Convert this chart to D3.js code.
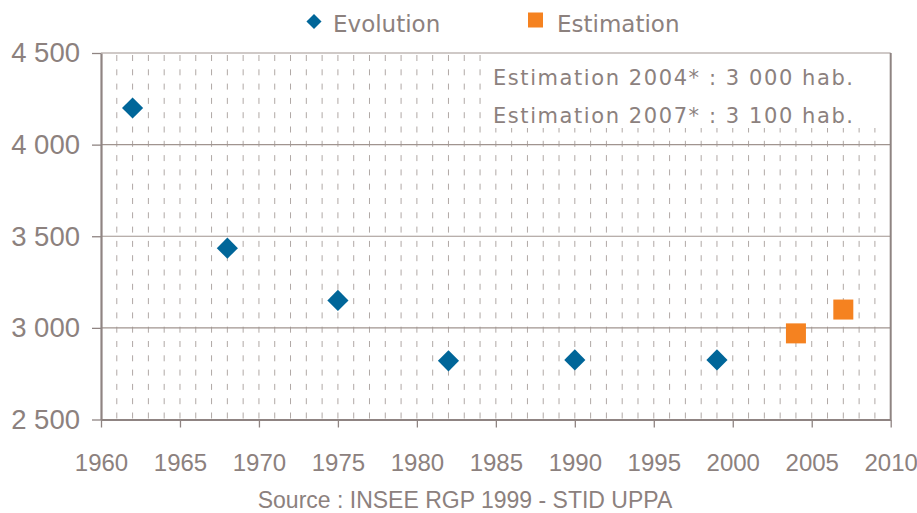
<!DOCTYPE html>
<html lang="fr">
  <head>
    <meta charset="utf-8">
    <script src="https://d3js.org/d3.v7.min.js"></script>
    <style>
    body { margin: 0; background: #fff; }
    </style>
  </head>
  <body>
    <div id="place"></div>
    <script type="text/javascript">
    // data
    var evolYears = [1962, 1968, 1975, 1982, 1990, 1999];
    var evolValues = [4200, 3435, 3150, 2820, 2825, 2825];
    var estimYears = [2004, 2007];
    var estimValues = [2970, 3100];
    var yTicks = [2500, 3000, 3500, 4000, 4500];
    var xTicks = [1960, 1965, 1970, 1975, 1980, 1985, 1990, 1995, 2000, 2005, 2010];
    var notes = ["Estimation 2004* : 3 000 hab.", "Estimation 2007* : 3 100 hab."];
    var legendLabels = ["Evolution", "Estimation"];
    var sourceText = "Source : INSEE RGP 1999 - STID UPPA";

    var width = 917, height = 513;
    var margin = { top: 53, left: 101, bottom: 93.5, right: 26.3 };
    var textCol = "#8c817e";
    var axisCol = "#8f8482";
    var blue = "#006699";
    var orange = "#f58220";
    var gothic = "'Century Gothic', 'Liberation Sans', Arial, sans-serif";
    var comic = "'Comic Sans MS', 'DejaVu Sans', sans-serif";

    var svg = d3.select('#place').append('svg')
      .attr('width', width)
      .attr('height', height);

    var x = d3.scaleLinear()
      .domain([1960, 2010])
      .range([margin.left, width - margin.right]);
    var y = d3.scaleLinear()
      .domain([2500, 4500])
      .range([height - margin.bottom, margin.top]);

    // dashed yearly grid
    var years = d3.range(1961, 2010);
    svg.append("g").selectAll("line")
      .data(years)
      .enter().append("line")
      .attr("x1", d => x(d)).attr("x2", d => x(d))
      .attr("y1", y(4500) + 2).attr("y2", y(2500))
      .attr("stroke", "#b0a8a5")
      .attr("stroke-width", 1)
      .attr("stroke-dasharray", "6,8.3");

    // white box behind the notes
    svg.append("rect")
      .attr("x", x(1960) + 381)
      .attr("y", y(4500) + 1)
      .attr("width", x(2010) - x(1960) - 382)
      .attr("height", 74)
      .attr("fill", "#fff");

    // horizontal grid
    svg.append("g").selectAll("line")
      .data(yTicks.slice(1))
      .enter().append("line")
      .attr("x1", x(1960)).attr("x2", x(2010))
      .attr("y1", d => y(d)).attr("y2", d => y(d))
      .attr("stroke", "#a0948f")
      .attr("stroke-width", 1.2);

    // right border
    svg.append("line")
      .attr("x1", x(2010)).attr("x2", x(2010))
      .attr("y1", y(4500)).attr("y2", y(2500))
      .attr("stroke", axisCol).attr("stroke-width", 2);

    // Y axis
    var yAxis = svg.append("g")
      .attr("transform", `translate(${x(1960)},0)`)
      .call(d3.axisLeft(y).tickValues(yTicks).tickSize(9).tickPadding(12)
        .tickFormat(d => d3.format(",")(d).replace(",", " ")).tickSizeOuter(0));
    yAxis.select(".domain").attr("stroke", axisCol).attr("stroke-width", 2.2);
    yAxis.selectAll(".tick line").attr("stroke", axisCol).attr("stroke-width", 1.3);
    yAxis.selectAll("text")
      .attr("fill", textCol)
      .style("font-family", gothic)
      .style("font-size", "27.5px");

    // X axis
    var xAxis = svg.append("g")
      .attr("transform", `translate(0,${y(2500)})`)
      .call(d3.axisBottom(x).tickValues(xTicks).tickSize(8).tickPadding(26)
        .tickFormat(d3.format("d")).tickSizeOuter(0));
    xAxis.select(".domain").attr("stroke", axisCol).attr("stroke-width", 2.2);
    xAxis.selectAll(".tick line").attr("stroke", axisCol).attr("stroke-width", 1.3);
    xAxis.selectAll("text")
      .attr("fill", textCol)
      .style("font-family", gothic)
      .style("font-size", "24px");

    // Evolution diamonds
    var evol = evolYears.map((d, i) => ({ year: d, value: evolValues[i] }));
    svg.append("g").selectAll("path")
      .data(evol)
      .enter().append("path")
      .attr("d", d3.symbol().type(d3.symbolDiamond2).size(285))
      .attr("transform", d => `translate(${x(d.year)},${y(d.value)})`)
      .attr("fill", blue);

    // Estimation squares
    var estim = estimYears.map((d, i) => ({ year: d, value: estimValues[i] }));
    svg.append("g").selectAll("rect")
      .data(estim)
      .enter().append("rect")
      .attr("x", d => x(d.year) - 10)
      .attr("y", d => y(d.value) - 10)
      .attr("width", 20).attr("height", 20)
      .attr("fill", orange);

    // notes
    svg.append("g").selectAll("text")
      .data(notes)
      .enter().append("text")
      .attr("x", 493)
      .attr("y", (d, i) => 85 + i * 38)
      .attr("textLength", 360)
      .attr("lengthAdjust", "spacing")
      .attr("fill", textCol)
      .style("font-family", comic)
      .style("font-size", "21px")
      .text(d => d);

    // legend
    svg.append("path")
      .attr("d", d3.symbol().type(d3.symbolDiamond2).size(145))
      .attr("transform", "translate(314,21.5)")
      .attr("fill", blue);
    svg.append("rect")
      .attr("x", 528).attr("y", 12.5)
      .attr("width", 15).attr("height", 15)
      .attr("fill", orange);
    svg.append("g").selectAll("text")
      .data(legendLabels)
      .enter().append("text")
      .attr("x", (d, i) => i === 0 ? 333 : 557)
      .attr("y", 32)
      .attr("fill", textCol)
      .style("font-family", comic)
      .style("font-size", "23px")
      .text(d => d);

    // source
    svg.append("text")
      .attr("x", 465)
      .attr("y", 508)
      .attr("text-anchor", "middle")
      .attr("fill", textCol)
      .style("font-family", gothic)
      .style("font-size", "23px")
      .text(sourceText);
    </script>
  </body>
</html>
